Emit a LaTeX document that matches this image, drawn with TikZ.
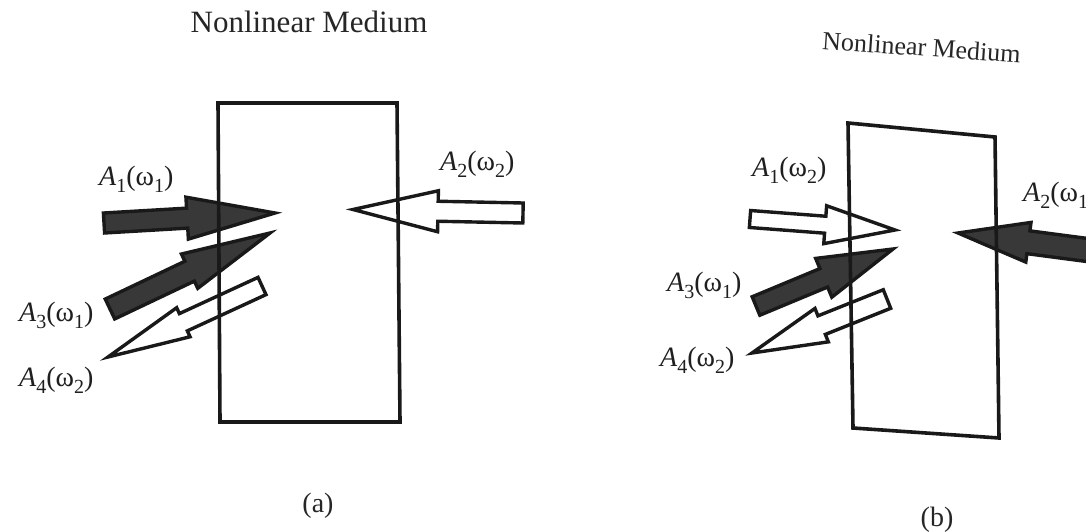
\documentclass[tikz,border=0pt]{standalone}
\usepackage{fontspec}
\setmainfont{Liberation Serif}
\usetikzlibrary{calc}
\tikzset{
  ink/.style={draw=black!90, line width=3.4pt, line join=miter},
  darkarrow/.style={ink, fill=black!78},
  lightarrow/.style={ink, fill=white},
  medium/.style={draw=black!90, line width=3.6pt, line join=miter},
  lab/.style={inner sep=0pt, anchor=base west, font=\fontsize{28}{30}\selectfont, text=black!88},
  ttl/.style={inner sep=0pt, anchor=base, font=\fontsize{31}{33}\selectfont, text=black!85},
  panelcap/.style={inner sep=0pt, anchor=base, font=\fontsize{28}{30}\selectfont, text=black!85},
}
\newcommand\sbs[1]{\raisebox{-7pt}{\fontsize{20}{20}\selectfont\upshape #1}}
\newcommand\fatarrow[6]{% style, tail, tip, shaft half width, head half width, head length
  \coordinate (#3-base) at ($(#3)!#6!(#2)$);
  \draw[#1] ($(#2)!#4!90:(#3)$) -- ($(#3-base)!#4!90:(#3)$) -- ($(#3-base)!#5!90:(#3)$) -- (#3)
    -- ($(#3-base)!#5!-90:(#3)$) -- ($(#3-base)!#4!-90:(#3)$) -- ($(#2)!#4!-90:(#3)$) -- cycle;
}
\begin{document}
\begin{tikzpicture}[x=1pt,y=-1pt]
\useasboundingbox (0,0) rectangle (1086,532);
\clip (0,0) rectangle (1086,532);
\fill[white] (0,0) rectangle (1086,532);

% ---------- panel (a) ----------
\node[ttl] (ta) at (309,33) {Nonlinear Medium};
\coordinate (a1t) at (104,223);  \coordinate (a1p) at (275,213);
\coordinate (a2t) at (523,213);  \coordinate (a2p) at (353,209.5);
\coordinate (a3t) at (110,309);  \coordinate (a3p) at (270,233);
\coordinate (a4t) at (262,286);  \coordinate (a4p) at (108,357);
\fatarrow{darkarrow}{a1t}{a1p}{10pt}{21pt}{88pt}
\fatarrow{lightarrow}{a2t}{a2p}{10pt}{20.5pt}{85pt}
\fatarrow{darkarrow}{a3t}{a3p}{11pt}{19pt}{89pt}
\fatarrow{lightarrow}{a4t}{a4p}{9.5pt}{16pt}{83pt}
\coordinate (ba1) at (218,103); \coordinate (ba2) at (397,103);
\coordinate (ba3) at (400,422); \coordinate (ba4) at (220,422);
\draw[medium] (ba1) -- (ba2) -- (ba3) -- (ba4) -- cycle;
\node[lab] (la1) at (99,185) {\itshape A\sbs{1}\upshape(ω\sbs{1})};
\node[lab] (la2) at (440,170) {\itshape A\sbs{2}\upshape(ω\sbs{2})};
\node[lab] (la3) at (19,321) {\itshape A\sbs{3}\upshape(ω\sbs{1})};
\node[lab] (la4) at (19,386) {\itshape A\sbs{4}\upshape(ω\sbs{2})};
\node[panelcap] (ca) at (318,512) {(a)};

% ---------- panel (b) ----------
\node[ttl, font=\fontsize{26}{28}\selectfont, rotate=-4] (tb) at (921,56) {Nonlinear Medium};
\coordinate (b1t) at (750,219);  \coordinate (b1p) at (895,230);
\coordinate (b2t) at (1110,253); \coordinate (b2p) at (958,233);
\coordinate (b3t) at (756,306);  \coordinate (b3p) at (893,249);
\coordinate (b4t) at (887,299);  \coordinate (b4p) at (752,353);
\fatarrow{lightarrow}{b1t}{b1p}{8.5pt}{19pt}{70pt}
\fatarrow{darkarrow}{b2t}{b2p}{11.5pt}{20pt}{71pt}
\fatarrow{darkarrow}{b3t}{b3p}{10pt}{21pt}{75pt}
\fatarrow{lightarrow}{b4t}{b4p}{10pt}{18pt}{75pt}
\coordinate (bb1) at (848,123); \coordinate (bb2) at (995,137);
\coordinate (bb3) at (999,438); \coordinate (bb4) at (853,428);
\draw[medium] (bb1) -- (bb2) -- (bb3) -- (bb4) -- cycle;
\node[lab] (lb1) at (752,176) {\itshape A\sbs{1}\upshape(ω\sbs{2})};
\node[lab] (lb2) at (1023,201) {\itshape A\sbs{2}\upshape(ω\sbs{1})};
\node[lab] (lb3) at (667,291) {\itshape A\sbs{3}\upshape(ω\sbs{1})};
\node[lab] (lb4) at (660,366) {\itshape A\sbs{4}\upshape(ω\sbs{2})};
\node[panelcap] (cb) at (937,526) {(b)};
\end{tikzpicture}
\end{document}
